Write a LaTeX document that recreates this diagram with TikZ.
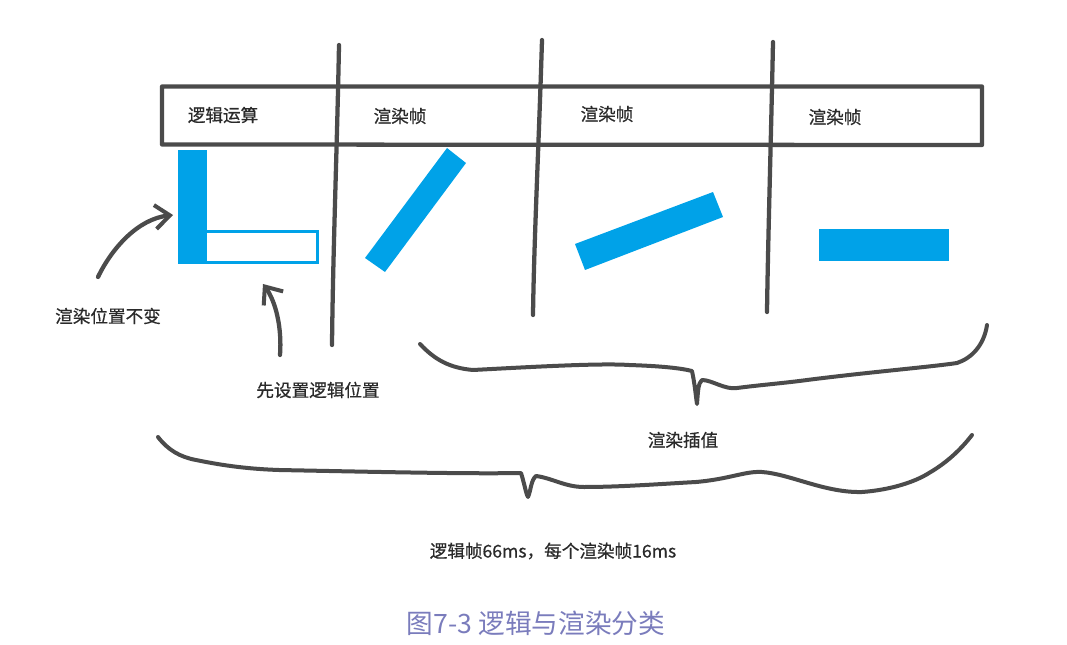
\documentclass[tikz,border=0pt]{standalone}
\usepackage{fontspec}
\setmainfont{Noto Sans CJK SC}
\newfontfamily\lblfont[FakeBold=0.6]{Noto Sans CJK SC}
\usetikzlibrary{arrows.meta}
\definecolor{ink}{HTML}{4B4B4B}
\definecolor{txt}{HTML}{2A2A2A}
\definecolor{bl}{RGB}{0,162,232}
\definecolor{cap}{HTML}{7A7CBC}
\tikzset{
  pen/.style={draw=ink,line width=3.2pt,line cap=round,line join=round},
  lbl/.style={text=txt,inner sep=0pt,font=\lblfont\fontsize{13.2pt}{15pt}\selectfont},
  blfill/.style={fill=bl,draw=none},
  arr/.style={pen,-{Straight Barb[length=11pt,width=18pt,line width=3pt]}}
}
\begin{document}
\begin{tikzpicture}[x=0.75pt,y=-0.75pt]
\useasboundingbox (0,0) rectangle (1067,645);
% header box
\draw[pen] (162,86.5) -- (982,86.5) -- (982,145) -- (162,144.5) -- cycle;
% vertical hand-drawn dividers
\draw[pen] (339,45) .. controls (337,150) and (333,250) .. (332,345);
\draw[pen] (542,40) .. controls (539,140) and (534,240) .. (533,315);
\draw[pen] (773,42) .. controls (771,140) and (768,240) .. (767,312);
% header labels
\node[lbl] (t1) at (223,115) {逻辑运算};
\node[lbl] (t2) at (400,116) {渲染帧};
\node[lbl] (t3) at (607,114) {渲染帧};
\node[lbl] (t4) at (835,117) {渲染帧};
% blue shapes
\fill[blfill] (178,150) rectangle (207,264);
\draw[draw=bl,line width=2.4pt] (205,231.6) rectangle (317.4,262.4);
\fill[blfill] (447,148) -- (466,163) -- (385,272) -- (365,258) -- cycle;
\fill[blfill] (575,244) -- (713,192) -- (723,217) -- (585,270) -- cycle;
\fill[blfill] (819,229) rectangle (949,261);
% arrows
\coordinate (a1s) at (98,277);
\coordinate (a1t) at (173,215);
\draw[arr] (a1s) .. controls (112,248) and (138,219) .. (a1t);
\coordinate (a2s) at (280,355);
\coordinate (a2t) at (263,284);
\draw[arr] (a2s) .. controls (282,328) and (276,302) .. (a2t);
\node[lbl] (l1) at (108,316) {渲染位置不变};
\node[lbl] (l2) at (318,390) {先设置逻辑位置};
% upper brace
\draw[pen,line width=3pt] (420,344) .. controls (435,360) and (450,368) .. (473,370)
  .. controls (530,367) and (600,363) .. (629,365)
  .. controls (660,366) and (680,368) .. (692,371)
  .. controls (695,385) and (696,398) .. (697,404)
  .. controls (698,392) and (698,383) .. (702,380)
  .. controls (712,380) and (725,390) .. (737,388)
  .. controls (760,385) and (785,383) .. (807,380)
  .. controls (870,372) and (930,367) .. (957,363)
  .. controls (972,358) and (984,345) .. (987,325);
\node[lbl] (l3) at (683,440) {渲染插值};
% lower brace
\draw[pen,line width=3pt] (158,437) .. controls (168,450) and (180,457) .. (196,460)
  .. controls (225,466) and (250,469) .. (279,470)
  .. controls (380,472) and (470,474) .. (521,473)
  .. controls (524,482) and (526,494) .. (528,497)
  .. controls (531,490) and (531,480) .. (536,476)
  .. controls (552,478) and (565,487) .. (584,487)
  .. controls (620,487) and (660,484) .. (696,482)
  .. controls (730,479) and (745,471) .. (762,472)
  .. controls (790,474) and (825,493) .. (862,492)
  .. controls (890,490) and (915,482) .. (929,473)
  .. controls (948,462) and (962,448) .. (972,435);
\node[lbl] (l4) at (553,551) {逻辑帧66ms，每个渲染帧16ms};
% caption
\node[text=cap,inner sep=0pt,font=\fontsize{20pt}{23pt}\selectfont] (cap) at (536,623) {图7-3 逻辑与渲染分类};
\end{tikzpicture}
\end{document}
